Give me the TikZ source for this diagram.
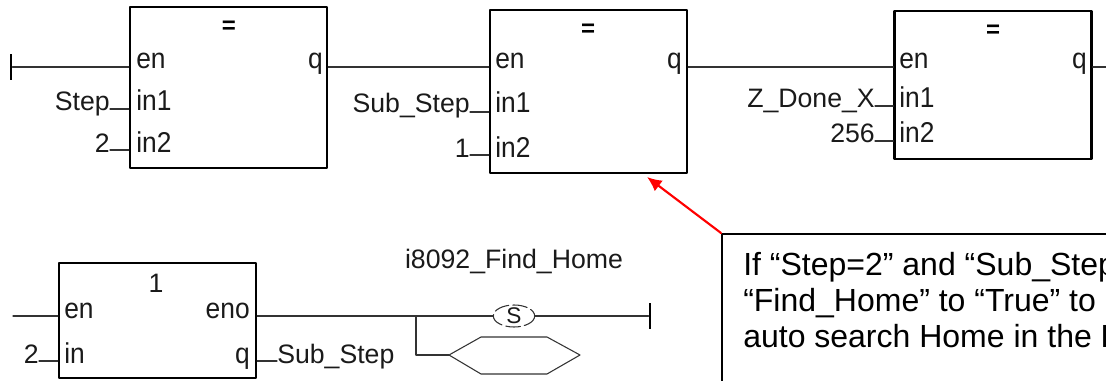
\documentclass[tikz,border=0pt]{standalone}
\usepackage{fontspec}
\setmainfont{Liberation Sans}
\newfontfamily\pinfont[FakeStretch=0.92]{Liberation Sans}
\usetikzlibrary{shapes.geometric,arrows.meta}
\definecolor{inkgray}{HTML}{1A1A1A}
\definecolor{wiregray}{HTML}{333333}
\tikzset{
  fbox/.style={draw=black,line width=1.8pt,inner sep=0pt,minimum width=147.75pt},
  wire/.style={draw=wiregray,line width=0.8pt},
  rail/.style={fill=black,inner sep=0pt,minimum width=1.8pt,minimum height=19.5pt},
  pin/.style={text=inkgray,inner sep=0pt,font=\pinfont\fontsize{21.5}{24}\selectfont},
  lbl/.style={text=inkgray,inner sep=0pt,font=\fontsize{20}{24}\selectfont},
  eqsign/.style={text=black,inner sep=0pt,font=\bfseries\fontsize{18}{22}\selectfont},
  coil/.style={ellipse,draw=wiregray,line width=0.8pt,dash pattern=on 11pt off 3pt,dash phase=5pt,
    inner sep=0pt,minimum width=31pt,minimum height=16.5pt},
}
\begin{document}
\begin{tikzpicture}[x=0.75pt,y=-0.75pt,line cap=round,line join=round,>=latex]
  \path[use as bounding box,clip] (0,0) rectangle (1106,381);
  % first row of blocks
  \node[fbox,minimum height=120.75pt] (boxA) at (228.5,87.5) {};
  \node[fbox,minimum height=122.25pt] (boxB) at (588.5,91.5) {};
  \node[fbox,minimum height=111pt] (boxC) at (993,85) {};
  \node[eqsign] (eqA) at (229,27) {=};
  \node[eqsign] (eqB) at (588,30) {=};
  \node[eqsign] (eqC) at (993,31) {=};
  \node[pin,anchor=base west] (enA) at (136,69) {en};
  \node[pin,anchor=base west] (inAa) at (136,111) {in1};
  \node[pin,anchor=base west] (inAb) at (136,152) {in2};
  \node[pin,anchor=base east] (qA) at (323,69) {q};
  \node[pin,anchor=base west] (enB) at (495,69) {en};
  \node[pin,anchor=base west] (inBa) at (495,113) {in1};
  \node[pin,anchor=base west] (inBb) at (495,157) {in2};
  \node[pin,anchor=base east] (qB) at (682,69) {q};
  \node[pin,anchor=base west] (enC) at (899,69) {en};
  \node[pin,anchor=base west] (inCa) at (899,108) {in1};
  \node[pin,anchor=base west] (inCb) at (899,143) {in2};
  \node[pin,anchor=base east] (qC) at (1087,69) {q};
  \node[lbl,anchor=base east] (lblStep) at (110,111) {Step};
  \node[lbl,anchor=base east] (lblTwo) at (110,152) {2};
  \node[lbl,anchor=base east] (lblSub) at (470,113) {Sub\_Step};
  \node[lbl,anchor=base east] (lblOne) at (470,157) {1};
  \node[lbl,anchor=base east] (lblDone) at (875,108) {Z\_Done\_X};
  \node[lbl,anchor=base east] (lblVal) at (875,143) {256};
  \coordinate (pStep) at (110,109);
  \coordinate (pTwo) at (110,150);
  \coordinate (pSub) at (470,112);
  \coordinate (pOne) at (470,155);
  \coordinate (pDone) at (875,106);
  \coordinate (pVal) at (875,141);
  \node[rail] (railA) at (11,67) {};
  \coordinate (endC) at (1106,67);
  \draw[wire] (railA) -- (railA -| boxA.west);
  \draw[wire] (railA -| boxA.east) -- (railA -| boxB.west);
  \draw[wire] (railA -| boxB.east) -- (railA -| boxC.west);
  \draw[wire] (railA -| boxC.east) -- (endC);
  \draw[wire] (pStep) -- (pStep -| boxA.west);
  \draw[wire] (pTwo) -- (pTwo -| boxA.west);
  \draw[wire] (pSub) -- (pSub -| boxB.west);
  \draw[wire] (pOne) -- (pOne -| boxB.west);
  \draw[wire] (pDone) -- (pDone -| boxC.west);
  \draw[wire] (pVal) -- (pVal -| boxC.west);
  % lower block and its outputs
  \node[fbox,minimum height=86.25pt] (boxD) at (157.5,320.5) {};
  \node[lbl] (oneD) at (156,283) {1};
  \node[pin,anchor=base west] (enD) at (64,318) {en};
  \node[pin,anchor=base west] (inD) at (64,363) {in};
  \node[pin,anchor=base east] (enoD) at (250,318) {eno};
  \node[pin,anchor=base east] (qD) at (250,363) {q};
  \node[lbl,anchor=base east] (lblIn) at (39,363) {2};
  \node[lbl,anchor=base west] (lblOut) at (277,363) {Sub\_Step};
  \node[lbl,anchor=base] (lblHome) at (514,268) {i8092\_Find\_Home};
  \coordinate (startD) at (13,316);
  \coordinate (pIn) at (39,361);
  \coordinate (pOut) at (277,361);
  \coordinate (tapD) at (416,316);
  \coordinate (hexL) at (449,355);
  \node[coil] (coilD) at (514,316) {};
  \node[lbl,font=\fontsize{17}{18}\selectfont] (coilS) at (coilD) {S};
  \node[rail] (railD) at (650,316) {};
  \draw[wire] (startD) -- (startD -| boxD.west);
  \draw[wire] (pIn) -- (pIn -| boxD.west);
  \draw[wire] (pOut) -- (pOut -| boxD.east);
  \draw[wire] (tapD -| boxD.east) -- (tapD) -- (coilD.west);
  \draw[wire] (coilD.east) -- (railD);
  \draw[wire] (tapD) |- (hexL);
  \draw[wire] (hexL) -- (481,337) -- (547,337) -- (580,355) -- (547,374) -- (481,374) -- cycle;
  % note, runs off the right edge
  \node[draw=black,line width=1.3pt,inner sep=0pt,anchor=north west,minimum width=400pt,minimum height=150pt] (note) at (721,233) {};
  \node[anchor=north west,inner sep=0pt,align=left,font=\fontsize{24}{27}\selectfont] (noteText) at (743,252)
    {If “Step=2” and “Sub\_Step\\“Find\_Home” to “True” to\\auto search Home in the L};
  \coordinate (tipB) at (647,177);
  \draw[red,line width=1.6pt,-{Latex[length=11pt,width=10pt]}] (note.north west) -- (tipB);
\end{tikzpicture}
\end{document}
